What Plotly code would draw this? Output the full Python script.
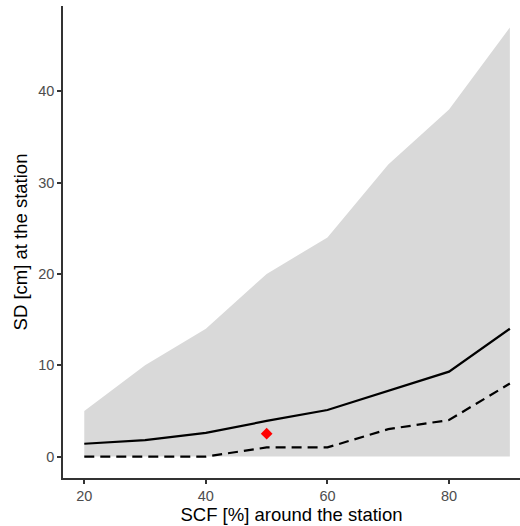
import plotly.graph_objects as go

scf = [20, 30, 40, 50, 60, 70, 80, 90]
upper = [5, 10, 14, 20, 24, 32, 38, 47]
lower = [0, 0, 0, 0, 0, 0, 0, 0]
median = [1.4, 1.8, 2.6, 3.9, 5.1, 7.2, 9.3, 14]
low_q = [0, 0, 0, 1, 1, 3, 4, 8]
obs_x = [50]
obs_y = [2.5]

fig = go.Figure()
fig.add_trace(go.Scatter(x=scf, y=lower, mode="lines", line=dict(width=0), showlegend=False, hoverinfo="skip"))
fig.add_trace(go.Scatter(x=scf, y=upper, mode="lines", line=dict(width=0), fill="tonexty",
                         fillcolor="#D9D9D9", showlegend=False))
fig.add_trace(go.Scatter(x=scf, y=median, mode="lines", line=dict(color="black", width=2.2), showlegend=False))
fig.add_trace(go.Scatter(x=scf, y=low_q, mode="lines", line=dict(color="black", width=2.2, dash="10px,6px"), showlegend=False))
fig.add_trace(go.Scatter(x=obs_x, y=obs_y, mode="markers",
                         marker=dict(symbol="diamond", color="red", size=9), showlegend=False))

axis_common = dict(showgrid=False, zeroline=False, showline=True, linecolor="#333333", linewidth=1.5,
                   ticks="outside", ticklen=4, tickcolor="#333333", tickwidth=1.5,
                   tickfont=dict(family="Liberation Sans, Arial", size=14.5, color="#4D4D4D"))

fig.update_layout(
    width=520, height=526,
    margin=dict(l=63, r=0, t=6, b=48),
    plot_bgcolor="white", paper_bgcolor="white",
    xaxis=dict(range=[16.5, 91.67], tickvals=[20, 40, 60, 80],
               title=dict(text="SCF [%] around the station", standoff=4,
                          font=dict(family="Liberation Sans, Arial", size=18.5, color="black")),
               **axis_common),
    yaxis=dict(range=[-2.35, 49.35], tickvals=[0, 10, 20, 30, 40],
               title=dict(text="SD [cm] at the station", standoff=6,
                          font=dict(family="Liberation Sans, Arial", size=18.5, color="black")),
               **axis_common),
)

fig.write_html("out.html")
